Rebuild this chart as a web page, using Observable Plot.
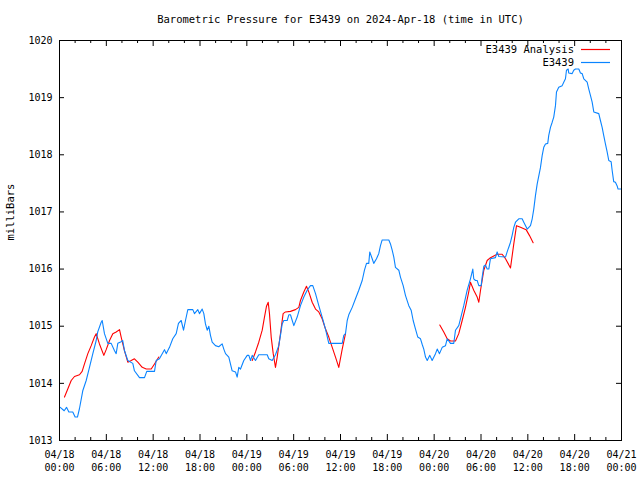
<!DOCTYPE html>
<html><head><meta charset="utf-8">
<script src="https://cdn.jsdelivr.net/npm/d3@7"></script>
<script src="https://cdn.jsdelivr.net/npm/@observablehq/plot@0.6"></script>
<style>body{margin:0;background:#fff}svg{display:block}</style>
</head><body><div id="chart"></div>
<script>
const title = "Barometric Pressure for E3439 on 2024-Apr-18 (time in UTC)";
const yLabel = "milliBars";
const seriesNames = ["E3439 Analysis", "E3439"];
const seriesColors = ["#ff0000", "#0a84ff"];
const xTickHours = [0, 6, 12, 18, 24, 30, 36, 42, 48, 54, 60, 66, 72];
const xTickLabels = ["04/18\n00:00","04/18\n06:00","04/18\n12:00","04/18\n18:00","04/19\n00:00","04/19\n06:00","04/19\n12:00","04/19\n18:00","04/20\n00:00","04/20\n06:00","04/20\n12:00","04/20\n18:00","04/21\n00:00"];
const xMinorHours = [2,4,8,10,14,16,20,22,26,28,32,34,38,40,44,46,50,52,56,58,62,64,68,70];
const yTicks = [1013, 1014, 1015, 1016, 1017, 1018, 1019, 1020];

// E3439 observations (hours since 04/18 00:00 UTC, mb)
const stationHours = [0.1,0.6,0.9,1.2,1.7,2.0,2.3,2.56,2.98,3.42,3.84,4.27,4.7,4.9,5.34,5.47,5.76,6.19,6.62,7.05,7.26,7.47,7.9,8.1,8.33,8.75,9.39,9.6,10.25,10.89,11.18,12.17,12.39,12.8,13.45,13.67,14.09,14.51,14.95,15.24,15.59,15.89,16.14,16.44,17.08,17.29,17.72,17.93,18.28,18.49,18.7,18.92,19.13,19.34,19.56,19.98,20.4,20.84,21.05,21.27,21.69,22.12,22.55,22.76,22.97,23.19,23.61,24.05,24.26,24.47,24.69,25.11,25.53,26.61,26.81,27.25,27.67,28.09,28.31,28.53,28.73,29.17,29.38,29.59,30.02,30.45,30.87,31.3,31.73,32.15,32.45,32.8,33.22,33.65,34.08,34.5,36.22,36.42,36.64,36.86,37.06,37.5,37.92,38.34,38.78,39.07,39.33,39.62,39.75,40.06,40.26,40.61,40.9,41.12,41.34,42.19,42.4,42.62,42.83,43.04,43.47,43.68,44.03,44.32,44.75,45.05,45.31,45.61,45.9,46.25,46.47,46.67,46.89,47.11,47.44,47.74,48.17,48.39,48.68,49.03,49.45,49.67,50.09,50.51,50.73,51.15,51.37,51.79,52.23,52.65,52.95,53.07,53.3,53.51,53.72,54.02,54.15,54.36,54.57,54.79,55.0,55.21,55.85,56.07,56.28,57.14,57.35,57.78,57.99,58.2,58.42,58.84,59.27,59.48,59.92,60.34,60.56,60.76,60.98,61.2,61.61,61.84,62.04,62.26,62.55,62.68,62.9,63.12,63.32,63.54,63.67,63.96,64.4,64.6,64.82,64.95,65.17,65.24,65.68,65.88,66.1,66.53,66.74,66.96,67.17,67.6,67.81,68.02,68.24,68.45,69.09,69.3,69.52,69.72,69.94,70.16,70.37,70.67,70.8,71.0,71.22,71.43,71.56,71.9];
const stationValues = [1013.58,1013.52,1013.58,1013.5,1013.5,1013.41,1013.41,1013.56,1013.87,1014.05,1014.28,1014.52,1014.75,1014.9,1015.07,1015.1,1014.87,1014.7,1014.7,1014.57,1014.52,1014.7,1014.73,1014.75,1014.57,1014.4,1014.35,1014.22,1014.1,1014.1,1014.21,1014.21,1014.4,1014.43,1014.59,1014.52,1014.63,1014.78,1014.87,1015.05,1015.1,1014.93,1015.1,1015.29,1015.29,1015.22,1015.29,1015.22,1015.3,1015.22,1015.04,1014.93,1015.0,1014.84,1014.72,1014.66,1014.64,1014.69,1014.6,1014.52,1014.46,1014.22,1014.2,1014.11,1014.28,1014.25,1014.4,1014.49,1014.49,1014.4,1014.49,1014.4,1014.5,1014.5,1014.43,1014.4,1014.5,1014.66,1014.84,1015.04,1015.1,1015.1,1015.2,1015.2,1015.01,1015.16,1015.36,1015.51,1015.63,1015.71,1015.71,1015.57,1015.36,1015.16,1014.95,1014.7,1014.7,1014.84,1014.87,1015.1,1015.2,1015.33,1015.48,1015.63,1015.8,1015.98,1016.1,1016.1,1016.3,1016.18,1016.1,1016.18,1016.27,1016.41,1016.51,1016.51,1016.44,1016.33,1016.21,1016.03,1015.98,1015.86,1015.71,1015.54,1015.36,1015.28,1015.1,1014.95,1014.81,1014.78,1014.68,1014.6,1014.46,1014.4,1014.49,1014.4,1014.52,1014.6,1014.52,1014.63,1014.66,1014.78,1014.7,1014.7,1014.93,1015.01,1015.13,1015.36,1015.63,1015.83,1016.0,1015.83,1015.8,1015.8,1015.71,1015.71,1015.86,1016.05,1016.07,1016.0,1016.0,1016.18,1016.2,1016.3,1016.22,1016.21,1016.3,1016.47,1016.59,1016.73,1016.82,1016.88,1016.88,1016.82,1016.7,1016.76,1016.88,1017.05,1017.29,1017.49,1017.77,1017.99,1018.13,1018.19,1018.2,1018.34,1018.48,1018.57,1018.66,1018.86,1019.1,1019.18,1019.21,1019.27,1019.33,1019.48,1019.5,1019.43,1019.42,1019.48,1019.5,1019.5,1019.43,1019.42,1019.33,1019.27,1019.15,1019.04,1018.92,1018.75,1018.72,1018.6,1018.48,1018.34,1018.19,1018.05,1017.9,1017.88,1017.73,1017.53,1017.52,1017.46,1017.4,1017.4];

// E3439 Analysis, three separate runs
const analysisSegment = [1,1,1,1,1,1,1,1,1,1,1,1,1,1,1,1,1,1,1,1,1,1,1,1,1,1,1,1,1, 2,2,2,2,2,2,2,2,2,2,2,2,2,2,2,2,2,2,2,2,2,2,2,2,2,2,2,2,2,2,2,2,2, 3,3,3,3,3,3,3,3,3,3,3,3,3,3,3,3,3,3,3,3,3,3,3,3,3,3,3];
const analysisHours = [0.64,1.06,1.5,1.92,2.56,2.9,3.2,3.63,4.06,4.48,4.7,5.12,5.68,5.98,6.41,6.83,7.26,7.69,7.9,8.33,8.75,9.19,9.6,10.03,10.6,11.11,11.75,12.17,12.72,
 24.69,25.11,25.53,25.97,26.26,26.52,26.74,26.9,27.12,27.38,27.67,27.89,28.31,28.65,28.95,29.59,30.23,30.66,30.87,31.3,31.64,31.94,32.37,32.8,33.22,33.65,34.08,34.5,34.94,35.36,35.78,36.22,36.64,
 48.72,49.23,49.67,50.09,50.73,51.15,51.59,52.01,52.43,52.65,53.07,53.51,53.72,53.94,54.36,54.79,55.21,56.07,56.71,57.14,57.78,58.2,58.55,59.06,59.78,60.2,60.68];
const analysisValues = [1013.76,1013.9,1014.05,1014.12,1014.15,1014.21,1014.34,1014.52,1014.66,1014.81,1014.87,1014.69,1014.49,1014.59,1014.75,1014.87,1014.9,1014.94,1014.81,1014.57,1014.37,1014.4,1014.43,1014.37,1014.28,1014.25,1014.25,1014.34,1014.46,
 1014.4,1014.55,1014.72,1014.93,1015.16,1015.35,1015.42,1015.22,1014.81,1014.52,1014.28,1014.46,1014.87,1015.22,1015.25,1015.26,1015.29,1015.33,1015.45,1015.6,1015.7,1015.6,1015.42,1015.3,1015.25,1015.13,1014.95,1014.81,1014.63,1014.46,1014.28,1014.6,1014.87,
 1015.02,1014.9,1014.78,1014.74,1014.74,1014.87,1015.1,1015.33,1015.6,1015.77,1015.63,1015.51,1015.42,1015.63,1015.98,1016.15,1016.2,1016.26,1016.26,1016.18,1016.02,1016.44,1016.76,1016.73,1016.69,1016.59,1016.46];

const station = stationHours.map((h, i) => ({h, v: stationValues[i]}));
const analysis = analysisHours.map((h, i) => ({h, v: analysisValues[i], seg: analysisSegment[i]}));

const W = 640, H = 480, mL = 59, mR = 19, mT = 40, mB = 40;
const fw = W - mL - mR, fh = H - mT - mB;
const font = "'DejaVu Sans Mono', 'Liberation Mono', monospace";

const chart = Plot.plot({
  width: W, height: H,
  marginLeft: mL, marginRight: mR, marginTop: mT, marginBottom: mB,
  style: {fontFamily: font, fontSize: "10px", background: "#fff", color: "#000"},
  x: {domain: [0, 72]},
  y: {domain: [1013, 1020]},
  marks: [
    Plot.axisX({ticks: xTickHours, tickSize: 0, tickPadding: 8, tickFormat: (d) => xTickLabels[xTickHours.indexOf(d)], lineHeight: 1.3, label: null, fontSize: 10}),
    Plot.axisY({ticks: yTicks, tickSize: 0, tickPadding: 7, tickFormat: (d) => String(d), label: null, fontSize: 10}),
    // inward ticks (bottom/top, left/right)
    Plot.tickX(xTickHours, {x: d => d, insetTop: fh - 6, stroke: "#000"}),
    Plot.tickX(xTickHours, {x: d => d, insetBottom: fh - 6, stroke: "#000"}),
    Plot.tickX(xMinorHours, {x: d => d, insetTop: fh - 3, stroke: "#000"}),
    Plot.tickX(xMinorHours, {x: d => d, insetBottom: fh - 3, stroke: "#000"}),
    Plot.tickY(yTicks, {y: d => d, insetRight: fw - 5, stroke: "#000"}),
    Plot.tickY(yTicks, {y: d => d, insetLeft: fw - 5, stroke: "#000"}),
    Plot.line(analysis, {x: "h", y: "v", z: "seg", stroke: seriesColors[0], strokeWidth: 1.1}),
    Plot.line(station, {x: "h", y: "v", stroke: seriesColors[1], strokeWidth: 1.1}),
    Plot.frame({stroke: "#000", strokeWidth: 1}),
    Plot.text([title], {frameAnchor: "top", dy: -21, text: d => d, fontSize: 10.5, lineAnchor: "middle"}),
    Plot.text([yLabel], {frameAnchor: "left", dx: -49, rotate: -90, text: d => d, fontSize: 10.5, lineAnchor: "middle"})
  ]
});
document.getElementById("chart").append(chart);

// legend (top-right, inside frame)
const svg = d3.select(chart);
const legendRows = [9, 22];
const lg = svg.append("g").attr("font-family", font).attr("font-size", 10.5);
seriesNames.forEach((name, i) => {
  lg.append("text").attr("x", W - mR - 47).attr("y", mT + legendRows[i] + 0.5)
    .attr("dy", "0.32em").attr("text-anchor", "end").attr("fill", "#000").text(name);
  lg.append("line").attr("x1", W - mR - 40).attr("x2", W - mR - 11)
    .attr("y1", mT + legendRows[i] + 0.5).attr("y2", mT + legendRows[i] + 0.5)
    .attr("stroke", seriesColors[i]).attr("stroke-width", 1.2);
});
</script></body></html>
